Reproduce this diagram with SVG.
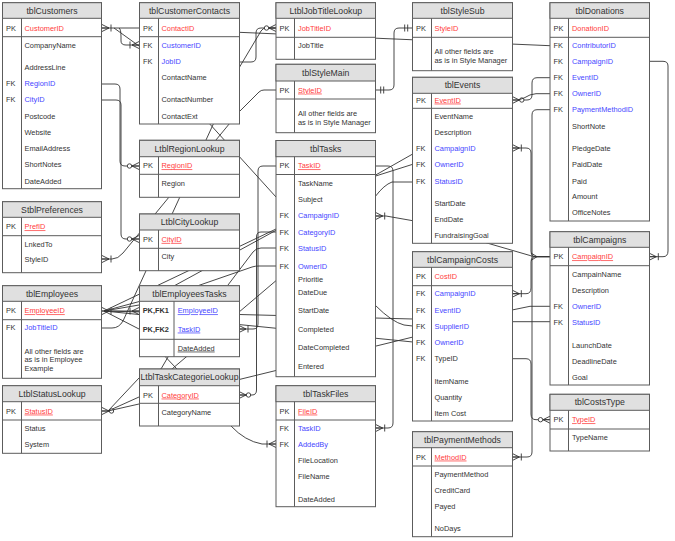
<svg xmlns="http://www.w3.org/2000/svg" width="675" height="541" viewBox="0 0 675 541">
<style>
.box{fill:#fff;stroke:#5c5c5c;stroke-width:1}
.hd{fill:#e0e0e0;stroke:#5c5c5c;stroke-width:1}
.ln{stroke:#5c5c5c;stroke-width:1}
text{font-family:"Liberation Sans",Arial,sans-serif;font-size:7.4px;fill:#333}
.ttl{font-size:8.7px;text-anchor:middle}
.pk{fill:#ff3c3c}
.fk{fill:#4646ff}
.u{text-decoration:underline}
.b{font-weight:bold}
.cn{fill:none;stroke:#333;stroke-width:0.9}
.mk{fill:none;stroke:#333;stroke-width:0.9}
</style>
<defs>
<marker id="mOM" markerUnits="userSpaceOnUse" viewBox="-14 -6 16 12" markerWidth="16" markerHeight="12" refX="0" refY="0" orient="auto-start-reverse" overflow="visible">
<path class="mk" d="M-7,0 L0,-3.5 M-7,0 L0,3.5 M-7,0 H0 M-9,-3.5 V3.5"/>
</marker>
<marker id="mZM" markerUnits="userSpaceOnUse" viewBox="-16 -6 18 12" markerWidth="18" markerHeight="12" refX="0" refY="0" orient="auto-start-reverse" overflow="visible">
<path class="mk" d="M-7,0 L0,-3.5 M-7,0 L0,3.5 M-7,0 H0"/>
<circle cx="-9.5" cy="0" r="2.2" fill="#fff" stroke="#333" stroke-width="0.9"/>
</marker>
<marker id="m11" markerUnits="userSpaceOnUse" viewBox="-14 -6 16 12" markerWidth="16" markerHeight="12" refX="0" refY="0" orient="auto-start-reverse" overflow="visible">
<path class="mk" d="M-5,-3.5 V3.5 M-8,-3.5 V3.5"/>
</marker>
</defs>

<g id="connectors">
<path class="cn" d="M102,28 H139" marker-start="url(#mOM)"/>
<path class="cn" d="M119,28 Q121,29 121,37 V41 Q121,45 126,45 H139" marker-end="url(#mOM)"/>
<path class="cn" d="M114,28 L139,46 L276,197"/>
<path class="cn" d="M102,84 H115 Q120,84 120,89 V161 Q120,166 125,166 H139" marker-end="url(#mZM)"/>
<path class="cn" d="M102,100 H116 Q121,100 121,105 V234 Q121,239 126,239 H139" marker-end="url(#mZM)"/>
<path class="cn" d="M102,259 H112 Q118,259 123,253 L239,112 L259,92 Q261,90 264,90 H276" marker-start="url(#mOM)"/>
<path class="cn" d="M102,328 H112 Q119,328 123,321 L239,68 L261,31 Q263,28 266,28 H276"/>
<path class="cn" d="M239,62 H251 Q256,62 256,57 V33 Q256,28 261,28 H276" marker-end="url(#mZM)"/>
<path class="cn" d="M239,32.3 L550,45.7"/>
<path class="cn" d="M375.7,90 H389 Q394,90 394,85 V33 Q394,28 399,28 H412.7" marker-start="url(#m11)" marker-end="url(#m11)"/>
<path class="cn" d="M102,311 H139" marker-start="url(#mOM)" marker-end="url(#mOM)"/>
<path class="cn" d="M104,311 L198,285.7 L252,267 Q255,266 259,266 H276"/>
<path class="cn" d="M104,311 L276,229 L375.7,175 L412.7,154"/>
<path class="cn" d="M104,311 L139,305 L375.7,176 L412.7,164.3"/>
<path class="cn" d="M104,311 L139,329 L231,426 Q245,441 262,444 H276" marker-end="url(#mOM)"/>
<path class="cn" d="M104,311 L413,319 L512,310 L530,306.3 H550"/>
<path class="cn" d="M104,311 L413,342"/>
<path class="cn" d="M102,411 H108 L139,397 L375.7,196 Q384,185 392,182 H412.7" marker-start="url(#mZM)"/>
<path class="cn" d="M108,411 L139,404 L413,337 L512,321.7 H550"/>
<path class="cn" d="M108,411 L139,378 L161,369 L168,357 L228,285 L253,252 Q256,248 261,248 H276"/>
<path class="cn" d="M276,166 H263 Q258,166 258,171 V324 Q258,329 253,329 H239" marker-end="url(#mOM)"/>
<path class="cn" d="M239,395 H252 Q256.5,395 256.5,390 V237 Q256.5,232 261,232 H276" marker-start="url(#mZM)"/>
<path class="cn" d="M375.7,166 H388 Q393,166 393,171 V423 Q393,428 388,428 H375.7" marker-end="url(#mOM)"/>
<path class="cn" d="M375.7,216 H386 L412.7,220.7 L488,243.3 L530,255.5 Q532,256.7 536,256.7 H550" marker-start="url(#mOM)"/>
<path class="cn" d="M531,253 L537,256.7 L531,260.4"/>
<path class="cn" d="M350,290 L375.7,305.7 Q392,322 404,325 L412.7,326"/>
<path class="cn" d="M550,77.7 H537 Q532,77.7 532,83 V95 Q532,100 527,100 H512.3" marker-end="url(#mZM)"/>
<path class="cn" d="M550,93.7 H536 Q530,94 524,98 L518,100"/>
<path class="cn" d="M550,109.7 H537 Q532,109.7 532,115 V452 Q532,457 527,457 H512.3" marker-end="url(#mOM)"/>
<path class="cn" d="M512.3,148 H526 Q531,148 531,153 V251 Q531,256.7 536,256.7 H550" marker-start="url(#mOM)"/>
<path class="cn" d="M512.3,293.7 H526 Q531,293.7 531,288 V262 Q531,256.7 536,256.7 H550" marker-start="url(#mOM)"/>
<path class="cn" d="M512.3,358.7 H526 Q531,358.7 531,364 V414 Q531,419.7 536,419.7 H550" marker-end="url(#mZM)"/>
<path class="cn" d="M649.3,61.3 H663 Q668,61.3 668,66 V251 Q668,256.7 663,256.7 H649.3" marker-end="url(#mOM)"/>
</g>

<g id="tblCustomers">
<rect class="box" x="2.5" y="2.7" width="99" height="186"/>
<rect class="hd" x="2.5" y="2.7" width="99" height="15.6"/>
<text class="ttl" x="52" y="13.6">tblCustomers</text>
<line class="ln" x1="2.5" y1="36.7" x2="101.5" y2="36.7"/>
<line class="ln" x1="21.5" y1="18.3" x2="21.5" y2="188.7"/>
<text x="6" y="30.6">PK</text><text class="pk" x="24.5" y="30.6">CustomerID</text>
<text x="24.5" y="47.6">CompanyName</text>
<text x="24.5" y="70.3">AddressLine</text>
<text x="6" y="86.3">FK</text><text class="fk" x="24.5" y="86.3">RegionID</text>
<text x="6" y="102.3">FK</text><text class="fk" x="24.5" y="102.3">CityID</text>
<text x="24.5" y="118.6">Postcode</text>
<text x="24.5" y="134.9">Website</text>
<text x="24.5" y="150.9">EmailAddress</text>
<text x="24.5" y="166.9">ShortNotes</text>
<text x="24.5" y="183.6">DateAdded</text>
</g>

<g id="tblCustomerContacts">
<rect class="box" x="139.5" y="2.7" width="100" height="121.3"/>
<rect class="hd" x="139.5" y="2.7" width="100" height="15.6"/>
<text class="ttl" x="189.5" y="13.6">tblCustomerContacts</text>
<line class="ln" x1="139.5" y1="36.7" x2="239.5" y2="36.7"/>
<line class="ln" x1="158.5" y1="18.3" x2="158.5" y2="124"/>
<text x="143" y="30.6">PK</text><text class="pk" x="161.5" y="30.6">ContactID</text>
<text x="143" y="47.6">FK</text><text class="fk" x="161.5" y="47.6">CustomerID</text>
<text x="143" y="63.9">FK</text><text class="fk" x="161.5" y="63.9">JobID</text>
<text x="161.5" y="80.3">ContactName</text>
<text x="161.5" y="102.3">ContactNumber</text>
<text x="161.5" y="118.6">ContactExt</text>
</g>

<g id="LtblRegionLookup">
<rect class="box" x="139.5" y="140.3" width="100" height="57"/>
<rect class="hd" x="139.5" y="140.3" width="100" height="16.4"/>
<text class="ttl" x="189.5" y="151.6">LtblRegionLookup</text>
<line class="ln" x1="139.5" y1="174.3" x2="239.5" y2="174.3"/>
<line class="ln" x1="158.5" y1="156.7" x2="158.5" y2="197.3"/>
<text x="143" y="168.3">PK</text><text class="pk u" x="161.5" y="168.3">RegionID</text>
<text x="161.5" y="185.9">Region</text>
</g>

<g id="LtblCityLookup">
<rect class="box" x="139.5" y="214" width="100" height="56.7"/>
<rect class="hd" x="139.5" y="214" width="100" height="16"/>
<text class="ttl" x="189.5" y="225.1">LtblCityLookup</text>
<line class="ln" x1="139.5" y1="248.3" x2="239.5" y2="248.3"/>
<line class="ln" x1="158.5" y1="230" x2="158.5" y2="270.7"/>
<text x="143" y="241.9">PK</text><text class="pk u" x="161.5" y="241.9">CityID</text>
<text x="161.5" y="259.3">City</text>
</g>

<g id="tblEmployeesTasks">
<rect class="box" x="139.5" y="285.7" width="100" height="71"/>
<rect class="hd" x="139.5" y="285.7" width="100" height="15.6"/>
<text class="ttl" x="189.5" y="296.6">tblEmployeesTasks</text>
<line class="ln" x1="139.5" y1="339.3" x2="239.5" y2="339.3"/>
<line class="ln" x1="174" y1="301.3" x2="174" y2="356.7"/>
<text class="b" x="142.7" y="313.3">PK,FK1</text><text class="fk u" x="177.7" y="313.3">EmployeeID</text>
<text class="b" x="142.7" y="331.6">PK,FK2</text><text class="fk u" x="177.7" y="331.6">TaskID</text>
<text class="u" x="177.7" y="350.6">DateAdded</text>
</g>

<g id="LtblTaskCategorieLookup">
<rect class="box" x="139.5" y="369" width="100" height="57"/>
<rect class="hd" x="139.5" y="369" width="100" height="16.7"/>
<text class="ttl" x="189.5" y="380.4">LtblTaskCategorieLookup</text>
<line class="ln" x1="139.5" y1="403.3" x2="239.5" y2="403.3"/>
<line class="ln" x1="158.5" y1="385.7" x2="158.5" y2="426"/>
<text x="143" y="397.6">PK</text><text class="pk u" x="161.5" y="397.6">CategoryID</text>
<text x="161.5" y="414.9">CategoryName</text>
</g>

<g id="LtblJobTitleLookup">
<rect class="box" x="276" y="2.7" width="99.5" height="56.6"/>
<rect class="hd" x="276" y="2.7" width="99.5" height="15.6"/>
<text class="ttl" x="325.75" y="13.6">LtblJobTitleLookup</text>
<line class="ln" x1="276" y1="37.3" x2="375.5" y2="37.3"/>
<line class="ln" x1="294.5" y1="18.3" x2="294.5" y2="59.3"/>
<text x="279.5" y="30.6">PK</text><text class="pk" x="298" y="30.6">JobTitleID</text>
<text x="298" y="47.6">JobTitle</text>
</g>

<g id="tblStyleMain">
<rect class="box" x="276" y="64.3" width="99.5" height="68.4"/>
<rect class="hd" x="276" y="64.3" width="99.5" height="16.7"/>
<text class="ttl" x="325.75" y="75.8">tblStyleMain</text>
<line class="ln" x1="276" y1="99" x2="375.5" y2="99"/>
<line class="ln" x1="294.5" y1="81" x2="294.5" y2="132.7"/>
<text x="279.5" y="92.6">PK</text><text class="pk u" x="298" y="92.6">StyleID</text>
<text x="298" y="116.3">All other fields are</text>
<text x="298" y="125.3">as is in Style Manager</text>
</g>

<g id="tblTasks">
<rect class="box" x="276" y="140.5" width="99.5" height="236.2"/>
<rect class="hd" x="276" y="140.5" width="99.5" height="16.2"/>
<text class="ttl" x="325.75" y="151.7">tblTasks</text>
<line class="ln" x1="276" y1="174.5" x2="375.5" y2="174.5"/>
<line class="ln" x1="294.5" y1="156.7" x2="294.5" y2="376.7"/>
<text x="279.5" y="168.3">PK</text><text class="pk u" x="298" y="168.3">TaskID</text>
<text x="298" y="185.9">TaskName</text>
<text x="298" y="202.3">Subject</text>
<text x="279.5" y="218.3">FK</text><text class="fk" x="298" y="218.3">CampaignID</text>
<text x="279.5" y="234.6">FK</text><text class="fk" x="298" y="234.6">CategoryID</text>
<text x="279.5" y="250.6">FK</text><text class="fk" x="298" y="250.6">StatusID</text>
<text x="279.5" y="269.3">FK</text><text class="fk" x="298" y="269.3">OwnerID</text>
<text x="298" y="281.6">Prioritie</text>
<text x="298" y="294.6">DateDue</text>
<text x="298" y="312.9">StartDate</text>
<text x="298" y="331.9">Completed</text>
<text x="298" y="350.3">DateCompleted</text>
<text x="298" y="368.6">Entered</text>
</g>

<g id="tblTaskFiles">
<rect class="box" x="276" y="385.7" width="99.5" height="121"/>
<rect class="hd" x="276" y="385.7" width="99.5" height="16"/>
<text class="ttl" x="325.75" y="396.8">tblTaskFiles</text>
<line class="ln" x1="276" y1="420" x2="375.5" y2="420"/>
<line class="ln" x1="294.5" y1="401.7" x2="294.5" y2="506.7"/>
<text x="279.5" y="413.6">PK</text><text class="pk u" x="298" y="413.6">FileID</text>
<text x="279.5" y="430.9">FK</text><text class="fk" x="298" y="430.9">TaskID</text>
<text x="279.5" y="446.9">FK</text><text class="fk" x="298" y="446.9">AddedBy</text>
<text x="298" y="462.9">FileLocation</text>
<text x="298" y="479.3">FileName</text>
<text x="298" y="501.6">DateAdded</text>
</g>

<g id="tblStyleSub">
<rect class="box" x="412.5" y="2.7" width="100" height="68"/>
<rect class="hd" x="412.5" y="2.7" width="100" height="15.6"/>
<text class="ttl" x="462.5" y="13.6">tblStyleSub</text>
<line class="ln" x1="412.5" y1="37.3" x2="512.5" y2="37.3"/>
<line class="ln" x1="431.5" y1="18.3" x2="431.5" y2="70.7"/>
<text x="416" y="30.6">PK</text><text class="pk" x="434.5" y="30.6">StyleID</text>
<text x="434.5" y="54.3">All other fields are</text>
<text x="434.5" y="62.9">as is in Style Manager</text>
</g>

<g id="tblEvents">
<rect class="box" x="412.5" y="77.3" width="100" height="166"/>
<rect class="hd" x="412.5" y="77.3" width="100" height="16"/>
<text class="ttl" x="462.5" y="88.4">tblEvents</text>
<line class="ln" x1="412.5" y1="108.3" x2="512.5" y2="108.3"/>
<line class="ln" x1="431.5" y1="93.3" x2="431.5" y2="243.3"/>
<text x="416" y="102.6">PK</text><text class="pk u" x="434.5" y="102.6">EventID</text>
<text x="434.5" y="118.9">EventName</text>
<text x="434.5" y="134.9">Description</text>
<text x="416" y="150.9">FK</text><text class="fk" x="434.5" y="150.9">CampaignID</text>
<text x="416" y="166.9">FK</text><text class="fk" x="434.5" y="166.9">OwnerID</text>
<text x="416" y="183.6">FK</text><text class="fk" x="434.5" y="183.6">StatusID</text>
<text x="434.5" y="205.6">StartDate</text>
<text x="434.5" y="221.9">EndDate</text>
<text x="434.5" y="237.9">FundraisingGoal</text>
</g>

<g id="tblCampaignCosts">
<rect class="box" x="412.5" y="251.7" width="100" height="169.3"/>
<rect class="hd" x="412.5" y="251.7" width="100" height="15.6"/>
<text class="ttl" x="462.5" y="262.6">tblCampaignCosts</text>
<line class="ln" x1="412.5" y1="285.7" x2="512.5" y2="285.7"/>
<line class="ln" x1="431.5" y1="267.3" x2="431.5" y2="421"/>
<text x="416" y="279.3">PK</text><text class="pk" x="434.5" y="279.3">CostID</text>
<text x="416" y="296.3">FK</text><text class="fk" x="434.5" y="296.3">CampaignID</text>
<text x="416" y="312.6">FK</text><text class="fk" x="434.5" y="312.6">EventID</text>
<text x="416" y="328.9">FK</text><text class="fk" x="434.5" y="328.9">SupplierID</text>
<text x="416" y="345.3">FK</text><text class="fk" x="434.5" y="345.3">OwnerID</text>
<text x="416" y="361.3">FK</text><text x="434.5" y="361.3">TypeID</text>
<text x="434.5" y="383.6">ItemName</text>
<text x="434.5" y="399.6">Quantity</text>
<text x="434.5" y="415.6">Item Cost</text>
</g>

<g id="tblPaymentMethods">
<rect class="box" x="412.5" y="431.7" width="100" height="105"/>
<rect class="hd" x="412.5" y="431.7" width="100" height="16"/>
<text class="ttl" x="462.5" y="442.8">tblPaymentMethods</text>
<line class="ln" x1="412.5" y1="466" x2="512.5" y2="466"/>
<line class="ln" x1="431.5" y1="447.7" x2="431.5" y2="536.7"/>
<text x="416" y="459.6">PK</text><text class="pk u" x="434.5" y="459.6">MethodID</text>
<text x="434.5" y="476.6">PaymentMethod</text>
<text x="434.5" y="492.9">CreditCard</text>
<text x="434.5" y="509.3">Payed</text>
<text x="434.5" y="531.3">NoDays</text>
</g>

<g id="tblDonations">
<rect class="box" x="550" y="2.7" width="99.5" height="218.3"/>
<rect class="hd" x="550" y="2.7" width="99.5" height="15.6"/>
<text class="ttl" x="599.75" y="13.6">tblDonations</text>
<line class="ln" x1="550" y1="37.3" x2="649.5" y2="37.3"/>
<line class="ln" x1="568.5" y1="18.3" x2="568.5" y2="221"/>
<text x="553.5" y="30.6">PK</text><text class="pk" x="572" y="30.6">DonationID</text>
<text x="553.5" y="47.6">FK</text><text class="fk" x="572" y="47.6">ContributorID</text>
<text x="553.5" y="63.9">FK</text><text class="fk" x="572" y="63.9">CampaignID</text>
<text x="553.5" y="80.3">FK</text><text class="fk" x="572" y="80.3">EventID</text>
<text x="553.5" y="96.3">FK</text><text class="fk" x="572" y="96.3">OwnerID</text>
<text x="553.5" y="112.3">FK</text><text class="fk" x="572" y="112.3">PaymentMethodID</text>
<text x="572" y="128.6">ShortNote</text>
<text x="572" y="150.9">PledgeDate</text>
<text x="572" y="166.9">PaidDate</text>
<text x="572" y="183.6">Paid</text>
<text x="572" y="199.3">Amount</text>
<text x="572" y="215.3">OfficeNotes</text>
</g>

<g id="tblCampaigns">
<rect class="box" x="550" y="231.7" width="99.5" height="153.3"/>
<rect class="hd" x="550" y="231.7" width="99.5" height="15.6"/>
<text class="ttl" x="599.75" y="242.6">tblCampaigns</text>
<line class="ln" x1="550" y1="265.7" x2="649.5" y2="265.7"/>
<line class="ln" x1="568.5" y1="247.3" x2="568.5" y2="385"/>
<text x="553.5" y="259.3">PK</text><text class="pk u" x="572" y="259.3">CampaignID</text>
<text x="572" y="276.6">CampainName</text>
<text x="572" y="292.9">Description</text>
<text x="553.5" y="308.9">FK</text><text class="fk" x="572" y="308.9">OwnerID</text>
<text x="553.5" y="325.3">FK</text><text class="fk" x="572" y="325.3">StatusID</text>
<text x="572" y="347.6">LaunchDate</text>
<text x="572" y="363.6">DeadlineDate</text>
<text x="572" y="379.6">Goal</text>
</g>

<g id="tblCostsType">
<rect class="box" x="550" y="394.3" width="99.5" height="56.7"/>
<rect class="hd" x="550" y="394.3" width="99.5" height="16"/>
<text class="ttl" x="599.75" y="405.4">tblCostsType</text>
<line class="ln" x1="550" y1="429" x2="649.5" y2="429"/>
<line class="ln" x1="568.5" y1="410.3" x2="568.5" y2="451"/>
<text x="553.5" y="422.3">PK</text><text class="pk u" x="572" y="422.3">TypeID</text>
<text x="572" y="439.6">TypeName</text>
</g>

<g id="StblPreferences">
<rect class="box" x="2.5" y="201.7" width="99" height="71"/>
<rect class="hd" x="2.5" y="201.7" width="99" height="15.6"/>
<text class="ttl" x="52" y="212.6">StblPreferences</text>
<line class="ln" x1="2.5" y1="235.7" x2="101.5" y2="235.7"/>
<line class="ln" x1="21.5" y1="217.3" x2="21.5" y2="272.7"/>
<text x="6" y="229.3">PK</text><text class="pk u" x="24.5" y="229.3">PrefID</text>
<text x="24.5" y="246.6">LnkedTo</text>
<text x="24.5" y="261.6">StyleID</text>
</g>

<g id="tblEmployees">
<rect class="box" x="2.5" y="285.7" width="99" height="92.6"/>
<rect class="hd" x="2.5" y="285.7" width="99" height="15.6"/>
<text class="ttl" x="52" y="296.6">tblEmployees</text>
<line class="ln" x1="2.5" y1="319.7" x2="101.5" y2="319.7"/>
<line class="ln" x1="21.5" y1="301.3" x2="21.5" y2="378.3"/>
<text x="6" y="313.3">PK</text><text class="pk u" x="24.5" y="313.3">EmployeeID</text>
<text x="6" y="330.3">FK</text><text class="fk" x="24.5" y="330.3">JobTitleID</text>
<text x="24.5" y="353.6">All other fields are</text>
<text x="24.5" y="362.3">as is in Employee</text>
<text x="24.5" y="370.6">Example</text>
</g>

<g id="LtblStatusLookup">
<rect class="box" x="2.5" y="385.7" width="99" height="67.6"/>
<rect class="hd" x="2.5" y="385.7" width="99" height="16"/>
<text class="ttl" x="52" y="396.8">LtblStatusLookup</text>
<line class="ln" x1="2.5" y1="420" x2="101.5" y2="420"/>
<line class="ln" x1="21.5" y1="401.7" x2="21.5" y2="453.3"/>
<text x="6" y="413.6">PK</text><text class="pk u" x="24.5" y="413.6">StatusID</text>
<text x="24.5" y="430.9">Status</text>
<text x="24.5" y="446.9">System</text>
</g>
</svg>
